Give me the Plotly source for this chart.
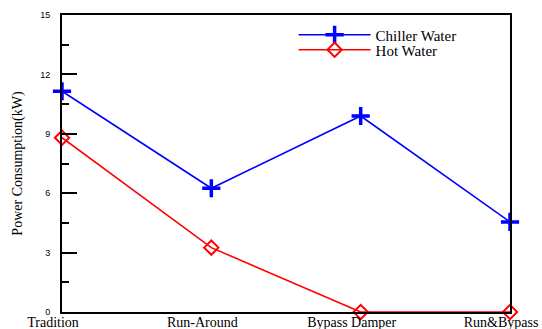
import plotly.graph_objects as go

categories = ["Tradition", "Run-Around", "Bypass Damper", "Run&Bypass"]
chiller_water = [11.15, 6.25, 9.9, 4.55]
hot_water = [8.8, 3.25, 0.0, 0.0]

x_pos = list(range(len(categories)))
SERIF = "'Liberation Serif', 'Times New Roman', serif"
SANS = "'Liberation Sans', Arial, sans-serif"

fig = go.Figure()
fig.add_trace(go.Scatter(
    x=x_pos, y=chiller_water, name="Chiller Water", mode="lines+markers",
    line=dict(color="#0000FF", width=1.6),
    marker=dict(symbol="cross-thin", size=13, color="#0000FF",
                line=dict(color="#0000FF", width=3.5)),
    cliponaxis=False, legend="legend",
))
fig.add_trace(go.Scatter(
    x=x_pos, y=hot_water, name="Hot Water", mode="lines+markers",
    line=dict(color="#FF0000", width=1.6),
    marker=dict(symbol="diamond-open", size=11, color="#FF0000",
                line=dict(color="#FF0000", width=2)),
    cliponaxis=False, legend="legend2",
))

legend_style = dict(
    xanchor="left", yanchor="middle",
    font=dict(family=SERIF, size=15, color="black"),
    bgcolor="rgba(0,0,0,0)", itemwidth=72,
)

fig.update_layout(
    width=542, height=329,
    margin=dict(l=62, r=32, t=15, b=17),
    paper_bgcolor="white", plot_bgcolor="white",
    showlegend=True,
    legend=dict(x=0.517, y=(312 - 35) / 297, **legend_style),
    legend2=dict(x=0.517, y=(312 - 50) / 297, **legend_style),
    xaxis=dict(
        range=[0, 3], tickmode="array", tickvals=x_pos, ticktext=categories,
        showgrid=False, zeroline=False, showline=True, mirror=True,
        linecolor="black", linewidth=2, ticks="", ticklen=0, automargin=False,
        ticklabeloverflow="allow", ticklabelstandoff=-4, ticklabelshift=-9,
        tickfont=dict(family=SERIF, size=14, color="black"),
    ),
    yaxis=dict(
        range=[0, 15], tickmode="linear", tick0=0, dtick=3,
        showgrid=False, zeroline=False, showline=True, mirror=True,
        linecolor="black", linewidth=2, automargin=False,
        ticks="inside", ticklen=15, tickwidth=2, tickcolor="black",
        minor=dict(dtick=1.5, tick0=0, ticks="inside", ticklen=7,
                   tickwidth=2, tickcolor="black", showgrid=False),
        tickfont=dict(family=SANS, size=9, color="black"),
        ticklabelstandoff=8,
        title=dict(text="Power Consumption(kW)", standoff=14,
                   font=dict(family=SERIF, size=14, color="black")),
    ),
)

fig.write_html("out.html")
